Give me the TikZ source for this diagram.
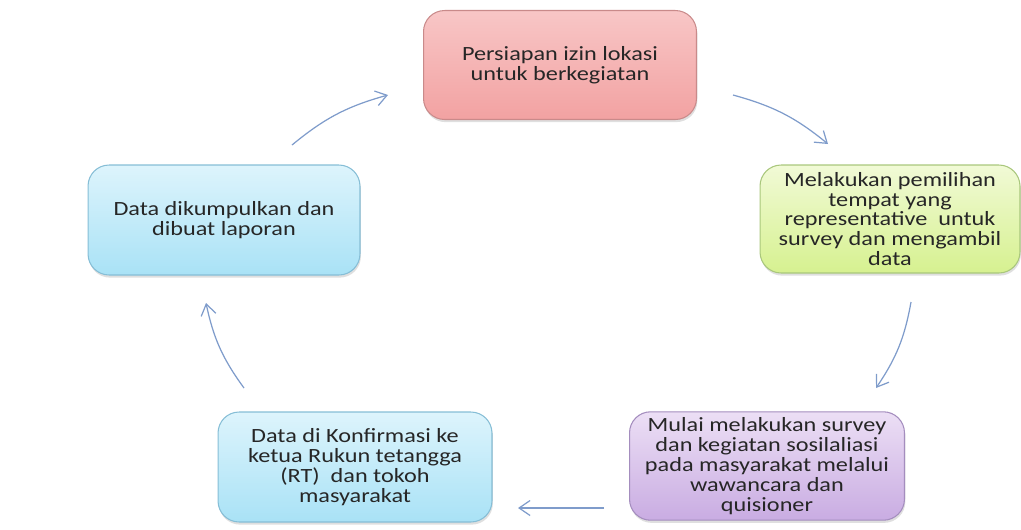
\documentclass[tikz,border=0pt]{standalone}
\usepackage{fontspec}
\setmainfont[FakeStretch=1.2]{Carlito}
\usetikzlibrary{arrows.meta,shadows}
\definecolor{redtop}{HTML}{F8C6C6}
\definecolor{redbot}{HTML}{F2A2A2}
\definecolor{redline}{HTML}{C98A8A}
\definecolor{grntop}{HTML}{F1FAD6}
\definecolor{grnbot}{HTML}{D6F190}
\definecolor{grnline}{HTML}{A9C77C}
\definecolor{purtop}{HTML}{ECDFF5}
\definecolor{purbot}{HTML}{C9ACE2}
\definecolor{purline}{HTML}{A48DBE}
\definecolor{blutop}{HTML}{DDF4FC}
\definecolor{blubot}{HTML}{A9E2F6}
\definecolor{bluline}{HTML}{86BED6}
\definecolor{arrowc}{HTML}{7F9CCB}
\definecolor{txt}{HTML}{262626}
\tikzset{
  stepbox/.style={rounded corners=12pt, line width=0.6pt, minimum width=5.46cm,
    minimum height=2.18cm, align=center, text=txt,
    font=\fontsize{11.5}{11.3}\selectfont,
    drop shadow={shadow xshift=0.5pt, shadow yshift=-1.5pt, opacity=0.25, fill=gray}},
  redbox/.style={stepbox, draw=redline, top color=redtop, bottom color=redbot},
  grnbox/.style={stepbox, draw=grnline, top color=grntop, bottom color=grnbot},
  purbox/.style={stepbox, draw=purline, top color=purtop, bottom color=purbot},
  blubox/.style={stepbox, draw=bluline, top color=blutop, bottom color=blubot},
  flow/.style={draw=arrowc, line width=0.7pt, -{Straight Barb[length=2.2mm, width=3mm]}}
}
\begin{document}
\begin{tikzpicture}[x=0.02cm, y=-0.02cm]
\useasboundingbox (0,0) rectangle (1021,529);
\node[redbox] (n1) at (560,65) {Persiapan izin lokasi\\untuk berkegiatan};
\node[grnbox, minimum width=5.2cm, minimum height=2.16cm] (n2) at (890,219) {Melakukan pemilihan\\tempat yang\\representative~ untuk\\survey dan mengambil\\data};
\node[purbox, minimum width=5.5cm, minimum height=2.16cm] (n3) at (767,466) {Mulai melakukan survey\\dan kegiatan sosilaliasi\\pada masyarakat melalui\\wawancara dan\\quisioner};
\node[blubox, minimum width=5.48cm, minimum height=2.2cm] (n4) at (355,467) {Data di Konfirmasi ke\\ketua Rukun tetangga\\(RT)~ dan tokoh\\masyarakat};
\node[blubox, minimum width=5.44cm, minimum height=2.2cm] (n5) at (224,220) {Data dikumpulkan dan\\dibuat laporan};
\coordinate (a1s) at (292,145);
\coordinate (a1e) at (388,95);
\coordinate (a2s) at (733,95);
\coordinate (a2e) at (828,144);
\coordinate (a3s) at (911,302);
\coordinate (a3e) at (876,388);
\coordinate (a4s) at (604,508);
\coordinate (a4e) at (518,508);
\coordinate (a5s) at (244,388);
\coordinate (a5e) at (206,303);
\draw[flow] (a1s) to[bend left=12] (a1e);
\draw[flow] (a2s) to[bend left=12] (a2e);
\draw[flow] (a3s) to[bend left=12] (a3e);
\draw[flow] (a4s) -- (a4e);
\draw[flow] (a5s) to[bend left=12] (a5e);
\end{tikzpicture}
\end{document}
